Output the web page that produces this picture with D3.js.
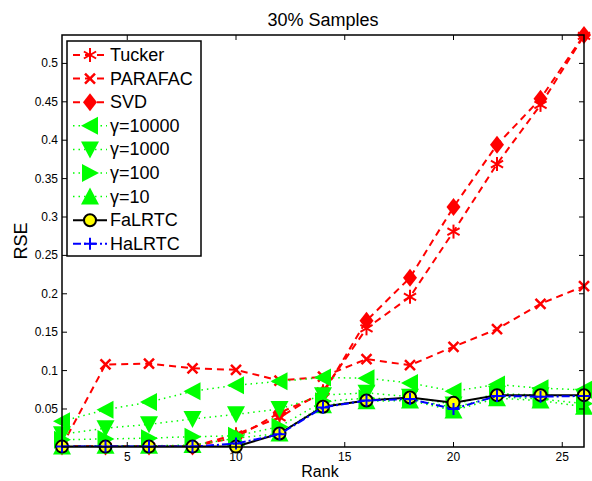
<!DOCTYPE html>
<html>
<head>
<meta charset="utf-8">
<script src="https://cdn.jsdelivr.net/npm/d3@7.9.0/dist/d3.min.js"></script>
<style>
  body { margin: 0; background: #fff; }
  svg { font-family: "Liberation Sans", Arial, sans-serif; }
</style>
</head>
<body>
<svg id="chart" width="592" height="481"></svg>
<script>
// --- DATA ---
const ranks = [2, 4, 6, 8, 10, 12, 14, 16, 18, 20, 22, 24, 26];
const tucker  = [0.001, 0.001, 0.001, 0.001, 0.017, 0.039, 0.073, 0.155, 0.196, 0.281, 0.369, 0.446, 0.536];
const parafac = [0.002, 0.108, 0.109, 0.103, 0.101, 0.087, 0.092, 0.115, 0.107, 0.131, 0.154, 0.187, 0.210];
const svd     = [0.001, 0.001, 0.001, 0.001, 0.013, 0.045, 0.070, 0.165, 0.221, 0.313, 0.394, 0.454, 0.537];
const g10000  = [0.034, 0.049, 0.059, 0.073, 0.081, 0.086, 0.091, 0.090, 0.084, 0.073, 0.082, 0.077, 0.075];
const g1000   = [0.017, 0.025, 0.030, 0.037, 0.043, 0.050, 0.068, 0.071, 0.066, 0.056, 0.070, 0.068, 0.066];
const g100    = [0.010, 0.011, 0.012, 0.014, 0.015, 0.027, 0.060, 0.064, 0.063, 0.052, 0.066, 0.063, 0.057];
const g10     = [0.001, 0.002, 0.002, 0.003, 0.012, 0.018, 0.055, 0.060, 0.061, 0.048, 0.064, 0.061, 0.053];
const falrtc  = [0.001, 0.001, 0.001, 0.001, 0.001, 0.018, 0.053, 0.061, 0.065, 0.058, 0.068, 0.068, 0.068];
const halrtc  = [0.001, 0.001, 0.001, 0.001, 0.005, 0.017, 0.052, 0.061, 0.063, 0.050, 0.067, 0.066, 0.067];

const xTicks = [5, 10, 15, 20, 25];
const yTicks = [0.05, 0.1, 0.15, 0.2, 0.25, 0.3, 0.35, 0.4, 0.45, 0.5];

const series = [
  { name: 'Tucker',  values: tucker,  color: '#ff0000', dash: '7,5',   width: 2,   marker: 'star' },
  { name: 'PARAFAC', values: parafac, color: '#ff0000', dash: '7,5',   width: 2,   marker: 'x' },
  { name: 'SVD',     values: svd,     color: '#ff0000', dash: '7,5',   width: 2,   marker: 'diamond' },
  { name: 'γ=10000', values: g10000,  color: '#00ff00', dash: '1.5,4', width: 1.5, marker: 'left' },
  { name: 'γ=1000',  values: g1000,   color: '#00ff00', dash: '1.5,4', width: 1.5, marker: 'down' },
  { name: 'γ=100',   values: g100,    color: '#00ff00', dash: '1.5,4', width: 1.5, marker: 'right' },
  { name: 'γ=10',    values: g10,     color: '#00ff00', dash: '1.5,4', width: 1.5, marker: 'up' },
  { name: 'FaLRTC',  values: falrtc,  color: '#000000', dash: null,    width: 2,   marker: 'circle' },
  { name: 'HaLRTC',  values: halrtc,  color: '#0000ff', dash: '8,3,2,3', width: 2, marker: 'plus' }
];

// --- LAYOUT ---
const svg = d3.select('#chart');
const margin = { left: 62, right: 8, top: 35, bottom: 34 };
const W = 592, H = 481;
const x = d3.scaleLinear().domain([2, 26]).range([margin.left, W - margin.right]);
const y = d3.scaleLinear().domain([0.0005, 0.537]).range([H - margin.bottom, margin.top]);

// markers
function drawMarker(g, type, cx, cy, color) {
  const s = 7;
  if (type === 'star') {
    const p = g.append('g').attr('stroke', color).attr('stroke-width', 2);
    [[0, -s], [s * 0.87, -s * 0.5], [s * 0.87, s * 0.5]].forEach(([dx, dy]) => {
      p.append('line').attr('x1', cx - dx).attr('y1', cy - dy).attr('x2', cx + dx).attr('y2', cy + dy);
    });
  } else if (type === 'x') {
    const d = 5;
    g.append('path').attr('d', `M${cx - d},${cy - d}L${cx + d},${cy + d}M${cx - d},${cy + d}L${cx + d},${cy - d}`)
      .attr('stroke', color).attr('stroke-width', 2.5);
  } else if (type === 'diamond') {
    g.append('path').attr('d', `M${cx},${cy - 9}L${cx + 7},${cy}L${cx},${cy + 9}L${cx - 7},${cy}Z`).attr('fill', color);
  } else if (type === 'left') {
    g.append('path').attr('d', `M${cx - 9},${cy}L${cx + 8},${cy - 9}L${cx + 8},${cy + 9}Z`).attr('fill', color);
  } else if (type === 'right') {
    g.append('path').attr('d', `M${cx + 9},${cy}L${cx - 8},${cy - 9}L${cx - 8},${cy + 9}Z`).attr('fill', color);
  } else if (type === 'down') {
    g.append('path').attr('d', `M${cx},${cy + 9}L${cx - 9},${cy - 8}L${cx + 9},${cy - 8}Z`).attr('fill', color);
  } else if (type === 'up') {
    g.append('path').attr('d', `M${cx},${cy - 9}L${cx - 9},${cy + 8}L${cx + 9},${cy + 8}Z`).attr('fill', color);
  } else if (type === 'circle') {
    g.append('circle').attr('cx', cx).attr('cy', cy).attr('r', 6)
      .attr('fill', '#ffff00').attr('stroke', '#000').attr('stroke-width', 2);
  } else if (type === 'plus') {
    g.append('path').attr('d', `M${cx - 6},${cy}L${cx + 6},${cy}M${cx},${cy - 6}L${cx},${cy + 6}`)
      .attr('stroke', color).attr('stroke-width', 2);
  }
}

// plot clip
svg.append('defs').append('clipPath').attr('id', 'clip')
  .append('rect').attr('x', margin.left).attr('y', margin.top)
  .attr('width', W - margin.left - margin.right).attr('height', H - margin.top - margin.bottom);

const line = d3.line().x((d, i) => x(ranks[i])).y(d => y(d));
const plot = svg.append('g');

series.forEach(s => {
  const g = plot.append('g');
  g.append('path').datum(s.values).attr('d', line)
    .attr('fill', 'none').attr('stroke', s.color).attr('stroke-width', s.width)
    .attr('stroke-dasharray', s.dash).attr('clip-path', 'url(#clip)');
  s.values.forEach((v, i) => drawMarker(g, s.marker, x(ranks[i]), y(v), s.color));
});

// --- AXES (MATLAB style box, ticks inward) ---
const x0 = margin.left, x1 = W - margin.right, y0 = H - margin.bottom, y1 = margin.top;
const axes = svg.append('g').attr('stroke', '#000').attr('stroke-width', 1.5);
axes.append('rect').attr('x', x0).attr('y', y1).attr('width', x1 - x0).attr('height', y0 - y1).attr('fill', 'none');

const tl = 5;
xTicks.forEach(t => {
  axes.append('line').attr('x1', x(t)).attr('x2', x(t)).attr('y1', y0).attr('y2', y0 - tl).attr('stroke-width', 1);
  axes.append('line').attr('x1', x(t)).attr('x2', x(t)).attr('y1', y1).attr('y2', y1 + tl).attr('stroke-width', 1);
  svg.append('text').attr('x', x(t)).attr('y', y0 + 14).attr('text-anchor', 'middle')
    .attr('font-size', 12).text(t);
});
yTicks.forEach(t => {
  axes.append('line').attr('x1', x0).attr('x2', x0 + tl).attr('y1', y(t)).attr('y2', y(t)).attr('stroke-width', 1);
  axes.append('line').attr('x1', x1).attr('x2', x1 - tl).attr('y1', y(t)).attr('y2', y(t)).attr('stroke-width', 1);
  svg.append('text').attr('x', x0 - 4).attr('y', y(t) + 4).attr('text-anchor', 'end')
    .attr('font-size', 12).text(d3.format('')(t));
});

// labels
svg.append('text').attr('x', (x0 + x1) / 2).attr('y', 26).attr('text-anchor', 'middle')
  .attr('font-size', 18).text('30% Samples');
svg.append('text').attr('x', 320).attr('y', 477).attr('text-anchor', 'middle')
  .attr('font-size', 16).text('Rank');
svg.append('text').attr('transform', `translate(27,${(y0 + y1) / 2}) rotate(-90)`)
  .attr('text-anchor', 'middle').attr('font-size', 18).text('RSE');

// --- LEGEND ---
const leg = svg.append('g');
leg.append('rect').attr('x', 67).attr('y', 41).attr('width', 134).attr('height', 215)
  .attr('fill', '#fff').attr('stroke', '#000').attr('stroke-width', 1.5);
series.forEach((s, i) => {
  const ly = 55 + i * 23.6;
  const g = leg.append('g');
  g.append('line').attr('x1', 73).attr('x2', 107).attr('y1', ly).attr('y2', ly)
    .attr('stroke', s.color).attr('stroke-width', s.width).attr('stroke-dasharray', s.dash);
  drawMarker(g, s.marker, 90, ly, s.color);
  g.append('text').attr('x', 110).attr('y', ly + 6).attr('font-size', 18).text(s.name);
});
</script>
</body>
</html>
